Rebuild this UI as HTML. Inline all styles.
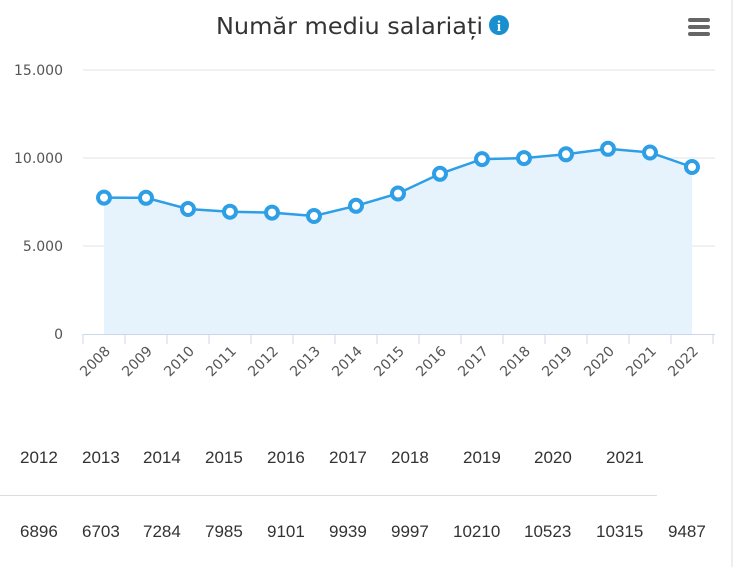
<!DOCTYPE html>
<html><head><meta charset="utf-8"><style>
body{margin:0;background:#fff;width:733px;height:567px;overflow:hidden;position:relative;font-family:"Liberation Sans",sans-serif}
.t{position:absolute;font-size:17px;color:#333}
</style></head><body>
<svg width="733" height="420" style="position:absolute;left:0;top:0" font-family="DejaVu Sans, sans-serif">
<text x="216" y="34" textLength="267" lengthAdjust="spacingAndGlyphs" font-size="23" fill="#333">Număr mediu salariați</text>
<circle cx="499" cy="25" r="10" fill="#1a8fd0"/><text x="499" y="31" text-anchor="middle" font-size="15" font-weight="bold" fill="#fff" font-family="Liberation Serif,serif">i</text>
<rect x="688" y="18" width="22" height="4" rx="2" fill="#666"/><rect x="688" y="25" width="22" height="4" rx="2" fill="#666"/><rect x="688" y="32" width="22" height="4" rx="2" fill="#666"/>
<g stroke="#e3e3e3" stroke-width="1"><line x1="83" y1="70" x2="715" y2="70"/><line x1="83" y1="158" x2="715" y2="158"/><line x1="83" y1="246" x2="715" y2="246"/></g>
<g font-size="14" fill="#555" text-anchor="end"><text x="63" y="75">15.000</text><text x="63" y="163">10.000</text><text x="63" y="251">5.000</text><text x="63" y="339">0</text></g>
<polygon fill="#e6f3fc" points="104,334 104,197.6 146,197.8 188,209 230,211.7 272,212.6 314,216 356,205.8 398,193.5 440,173.8 482,159.1 524,158.1 566,154.3 608,148.8 650,152.5 692,167 692,334"/>
<line x1="83" y1="334.5" x2="715" y2="334.5" stroke="#ccd6eb"/>
<g stroke="#ccd6eb"><line x1="83" y1="334" x2="83" y2="344"/><line x1="125" y1="334" x2="125" y2="344"/><line x1="167" y1="334" x2="167" y2="344"/><line x1="209" y1="334" x2="209" y2="344"/><line x1="251" y1="334" x2="251" y2="344"/><line x1="293" y1="334" x2="293" y2="344"/><line x1="335" y1="334" x2="335" y2="344"/><line x1="377" y1="334" x2="377" y2="344"/><line x1="419" y1="334" x2="419" y2="344"/><line x1="461" y1="334" x2="461" y2="344"/><line x1="503" y1="334" x2="503" y2="344"/><line x1="545" y1="334" x2="545" y2="344"/><line x1="587" y1="334" x2="587" y2="344"/><line x1="629" y1="334" x2="629" y2="344"/><line x1="671" y1="334" x2="671" y2="344"/><line x1="713" y1="334" x2="713" y2="344"/></g>
<polyline fill="none" stroke="#2e9fe6" stroke-width="2.5" points="104,197.6 146,197.8 188,209 230,211.7 272,212.6 314,216 356,205.8 398,193.5 440,173.8 482,159.1 524,158.1 566,154.3 608,148.8 650,152.5 692,167"/>
<g fill="#fff" stroke="#2e9fe6" stroke-width="4">
<circle cx="104" cy="197.6" r="6"/><circle cx="146" cy="197.8" r="6"/><circle cx="188" cy="209" r="6"/><circle cx="230" cy="211.7" r="6"/><circle cx="272" cy="212.6" r="6"/><circle cx="314" cy="216" r="6"/><circle cx="356" cy="205.8" r="6"/><circle cx="398" cy="193.5" r="6"/><circle cx="440" cy="173.8" r="6"/><circle cx="482" cy="159.1" r="6"/><circle cx="524" cy="158.1" r="6"/><circle cx="566" cy="154.3" r="6"/><circle cx="608" cy="148.8" r="6"/><circle cx="650" cy="152.5" r="6"/><circle cx="692" cy="167" r="6"/></g>
<g font-size="14" fill="#555" text-anchor="end">
<text transform="translate(111,352) rotate(-45)">2008</text><text transform="translate(153,352) rotate(-45)">2009</text><text transform="translate(195,352) rotate(-45)">2010</text><text transform="translate(237,352) rotate(-45)">2011</text><text transform="translate(279,352) rotate(-45)">2012</text><text transform="translate(321,352) rotate(-45)">2013</text><text transform="translate(363,352) rotate(-45)">2014</text><text transform="translate(405,352) rotate(-45)">2015</text><text transform="translate(447,352) rotate(-45)">2016</text><text transform="translate(489,352) rotate(-45)">2017</text><text transform="translate(531,352) rotate(-45)">2018</text><text transform="translate(573,352) rotate(-45)">2019</text><text transform="translate(615,352) rotate(-45)">2020</text><text transform="translate(657,352) rotate(-45)">2021</text><text transform="translate(699,352) rotate(-45)">2022</text></g>
</svg>
<div style="position:absolute;left:731px;top:0;width:2px;height:567px;background:#eee"></div>
<div class="t" style="left:20px;top:448px">2012</div><div class="t" style="left:82px;top:448px">2013</div><div class="t" style="left:143px;top:448px">2014</div><div class="t" style="left:205px;top:448px">2015</div><div class="t" style="left:267px;top:448px">2016</div><div class="t" style="left:329px;top:448px">2017</div><div class="t" style="left:391px;top:448px">2018</div><div class="t" style="left:463px;top:448px">2019</div><div class="t" style="left:534px;top:448px">2020</div><div class="t" style="left:606px;top:448px">2021</div>
<div style="position:absolute;left:0;top:495px;width:657px;height:1px;background:#ddd"></div>
<div class="t" style="left:20px;top:522px">6896</div><div class="t" style="left:82px;top:522px">6703</div><div class="t" style="left:143px;top:522px">7284</div><div class="t" style="left:205px;top:522px">7985</div><div class="t" style="left:267px;top:522px">9101</div><div class="t" style="left:329px;top:522px">9939</div><div class="t" style="left:391px;top:522px">9997</div><div class="t" style="left:453px;top:522px">10210</div><div class="t" style="left:524px;top:522px">10523</div><div class="t" style="left:596px;top:522px">10315</div><div class="t" style="left:668px;top:522px">9487</div>
</body></html>
